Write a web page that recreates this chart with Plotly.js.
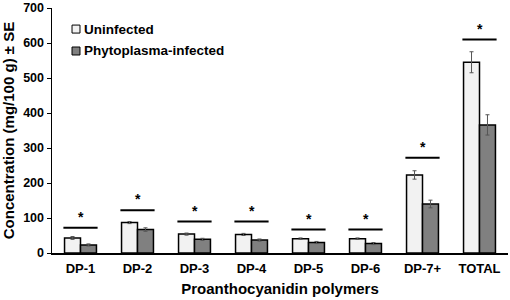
<!DOCTYPE html>
<html>
<head>
<meta charset="utf-8">
<script src="https://cdn.plot.ly/plotly-3.0.1.min.js"></script>
<style>html,body{margin:0;padding:0;background:#fff}#chart{width:510px;height:300px}</style>
</head>
<body>
<div id="chart"></div>
<script>
var categories = ["DP-1","DP-2","DP-3","DP-4","DP-5","DP-6","DP-7+","TOTAL"];
var seriesNames = ["Uninfected", "Phytoplasma-infected"];
var uninfected = [43, 87, 54, 53, 41, 41, 223, 545];
var uninfectedSE = [4, 3, 3, 3, 2, 2, 12, 30];
var infected = [23, 67, 39, 37, 30, 27, 140, 366];
var infectedSE = [3, 5, 3, 3, 3, 3, 11, 29];
var sigLine = [72, 122, 90, 90, 67, 67, 272, 610];
var sigLabel = ["*","*","*","*","*","*","*","*"];

var font = "Arial, 'Liberation Sans', sans-serif";
var colors = ["#f2f2f2", "#808080"];
var traces = [
  {type:"bar", name:seriesNames[0], x:categories, y:uninfected,
   marker:{color:colors[0], line:{color:"#000", width:1.5}},
   error_y:{type:"data", array:uninfectedSE, visible:true, color:"#555", thickness:1, width:2}},
  {type:"bar", name:seriesNames[1], x:categories, y:infected,
   marker:{color:colors[1], line:{color:"#000", width:1.5}},
   error_y:{type:"data", array:infectedSE, visible:true, color:"#555", thickness:1, width:2}}
];
var shapes = [], annotations = [];
for (var i = 0; i < categories.length; i++) {
  shapes.push({type:"line", xref:"x", yref:"y", x0:i-0.3, x1:i+0.3, y0:sigLine[i], y1:sigLine[i],
    line:{color:"#000", width:2}});
  annotations.push({xref:"x", yref:"y", x:i, y:sigLine[i], text:sigLabel[i], showarrow:false,
    yanchor:"bottom", yshift:1, font:{family:font, size:14, weight:"bold", color:"#000"}});
}
// custom legend (plot area: 456 x 245 px)
var legY = [0.914, 0.8245];
for (var k = 0; k < seriesNames.length; k++) {
  shapes.push({type:"rect", xref:"paper", yref:"paper", x0:0.0439, x1:0.0614,
    y0:legY[k]-0.0163, y1:legY[k]+0.0163, fillcolor:colors[k], line:{color:"#000", width:1}});
  annotations.push({xref:"paper", yref:"paper", x:0.0658, y:legY[k], xanchor:"left", yanchor:"middle",
    text:seriesNames[k], showarrow:false, font:{family:font, size:13.5, weight:"bold", color:"#000"}});
}
var layout = {
  width:510, height:300,
  margin:{l:52, r:2, t:8, b:47},
  paper_bgcolor:"#fff", plot_bgcolor:"#fff",
  font:{family:font, color:"#000"},
  barmode:"group", bargap:0.44, bargroupgap:0,
  showlegend:false,
  xaxis:{type:"category", showline:true, linecolor:"#000", linewidth:1.5, ticks:"outside", ticklen:3,
    tickcolor:"rgba(0,0,0,0)", showgrid:false, tickfont:{family:font, size:13, weight:"bold", color:"#000"},
    title:{text:"Proanthocyanidin polymers", font:{family:font, size:15, weight:"bold", color:"#000"}, standoff:8}},
  yaxis:{range:[0,700], dtick:100, showline:true, linecolor:"#000", linewidth:1.5, ticks:"outside",
    ticklen:4, tickcolor:"#000", showgrid:false, zeroline:false,
    tickfont:{family:font, size:12.5, weight:"bold", color:"#000"},
    title:{text:"Concentration (mg/100 g) ± SE", font:{family:font, size:15, weight:"bold", color:"#000"}, standoff:6}},
  shapes:shapes, annotations:annotations
};
Plotly.newPlot("chart", traces, layout, {displayModeBar:false, staticPlot:true});
</script>
</body>
</html>
